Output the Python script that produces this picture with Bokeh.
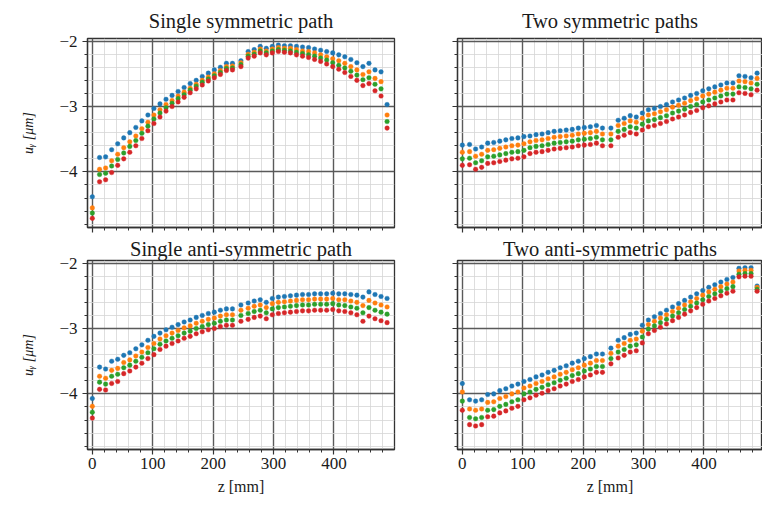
from bokeh.plotting import figure
from bokeh.layouts import column, row
from bokeh.models import FixedTicker, Range1d
from bokeh.embed import file_html
from bokeh.resources import INLINE

# ---------------- data ----------------
z = [0, 12, 22, 32, 42, 52, 62, 72, 82, 92, 102, 112, 122, 132, 142, 152, 162, 172,
     182, 192, 202, 212, 222, 232, 246, 258, 268, 278, 288, 298, 308, 318, 328, 338,
     348, 358, 368, 378, 388, 398, 408, 418, 428, 438, 448, 458, 468, 478, 488]

titles = ["Single symmetric path", "Two symmetric paths",
          "Single anti-symmetric path", "Two anti-symmetric paths"]

x_ticks = [0, 100, 200, 300, 400]
x_minor = [20, 40, 60, 80, 120, 140, 160, 180, 220, 240, 260, 280, 320, 340, 360,
           380, 420, 440, 460, 480]
y_ticks = [-4, -3, -2]
y_tick_labels = {-4: "\u22124", -3: "\u22123", -2: "\u22122"}
y_minor = [-4.8, -4.6, -4.4, -4.2, -3.8, -3.6, -3.4, -3.2, -2.8, -2.6, -2.4, -2.2]

# Single symmetric path
tl_blue = [-4.38, -3.78, -3.77, -3.66, -3.57, -3.48, -3.40, -3.32, -3.22, -3.13, -3.03, -2.96,
           -2.89, -2.83, -2.77, -2.71, -2.65, -2.60, -2.54, -2.49, -2.44, -2.40, -2.34, -2.34,
           -2.30, -2.16, -2.13, -2.08, -2.11, -2.08, -2.06, -2.07, -2.07, -2.08, -2.09, -2.10,
           -2.12, -2.14, -2.16, -2.18, -2.21, -2.24, -2.28, -2.33, -2.39, -2.34, -2.44, -2.47, -2.97]
tl_orange = [-4.55, -3.96, -3.94, -3.83, -3.73, -3.63, -3.54, -3.45, -3.34, -3.24, -3.13, -3.05,
             -2.97, -2.91, -2.84, -2.78, -2.72, -2.66, -2.60, -2.55, -2.50, -2.45, -2.39, -2.38,
             -2.33, -2.20, -2.17, -2.12, -2.15, -2.12, -2.10, -2.11, -2.11, -2.13, -2.15, -2.16,
             -2.18, -2.21, -2.24, -2.27, -2.30, -2.34, -2.39, -2.44, -2.51, -2.47, -2.57, -2.62, -3.13]
tl_green = [-4.63, -4.04, -4.02, -3.91, -3.81, -3.71, -3.61, -3.52, -3.41, -3.30, -3.19, -3.10,
            -3.02, -2.95, -2.88, -2.82, -2.75, -2.69, -2.63, -2.58, -2.53, -2.48, -2.42, -2.41,
            -2.36, -2.23, -2.20, -2.15, -2.18, -2.15, -2.13, -2.14, -2.15, -2.17, -2.19, -2.21,
            -2.23, -2.26, -2.29, -2.33, -2.37, -2.41, -2.46, -2.52, -2.59, -2.56, -2.66, -2.73, -3.23]
tl_red = [-4.71, -4.15, -4.12, -4.01, -3.90, -3.80, -3.70, -3.60, -3.49, -3.37, -3.26, -3.16,
          -3.07, -3.00, -2.93, -2.86, -2.79, -2.73, -2.67, -2.61, -2.56, -2.51, -2.45, -2.44,
          -2.39, -2.26, -2.23, -2.18, -2.21, -2.18, -2.16, -2.17, -2.18, -2.21, -2.23, -2.25,
          -2.28, -2.31, -2.35, -2.39, -2.43, -2.48, -2.54, -2.60, -2.68, -2.65, -2.76, -2.84, -3.33]

# Two symmetric paths
tr_blue = [-3.59, -3.58, -3.65, -3.62, -3.56, -3.55, -3.53, -3.51, -3.49, -3.48, -3.46, -3.45,
           -3.43, -3.42, -3.40, -3.38, -3.37, -3.36, -3.35, -3.33, -3.32, -3.31, -3.29, -3.33,
           -3.33, -3.21, -3.18, -3.14, -3.16, -3.10, -3.05, -3.03, -3.00, -2.97, -2.93, -2.90,
           -2.87, -2.83, -2.80, -2.76, -2.73, -2.70, -2.67, -2.64, -2.64, -2.53, -2.54, -2.56, -2.49]
tr_orange = [-3.70, -3.69, -3.76, -3.73, -3.67, -3.66, -3.64, -3.62, -3.60, -3.59, -3.57, -3.54,
             -3.52, -3.51, -3.49, -3.47, -3.46, -3.45, -3.44, -3.42, -3.41, -3.40, -3.38, -3.42,
             -3.42, -3.29, -3.26, -3.22, -3.24, -3.18, -3.13, -3.11, -3.08, -3.05, -3.01, -2.98,
             -2.95, -2.91, -2.88, -2.84, -2.81, -2.78, -2.75, -2.72, -2.72, -2.61, -2.62, -2.64, -2.57]
tr_green = [-3.80, -3.79, -3.86, -3.83, -3.77, -3.76, -3.74, -3.72, -3.70, -3.69, -3.67, -3.63,
            -3.61, -3.60, -3.58, -3.56, -3.55, -3.54, -3.53, -3.51, -3.50, -3.49, -3.47, -3.51,
            -3.51, -3.38, -3.35, -3.31, -3.33, -3.27, -3.22, -3.20, -3.17, -3.14, -3.10, -3.07,
            -3.04, -3.00, -2.97, -2.93, -2.90, -2.87, -2.84, -2.81, -2.81, -2.70, -2.71, -2.73, -2.66]
tr_red = [-3.90, -3.89, -3.96, -3.93, -3.87, -3.86, -3.84, -3.82, -3.80, -3.79, -3.77, -3.72,
          -3.70, -3.69, -3.67, -3.65, -3.64, -3.63, -3.62, -3.60, -3.59, -3.58, -3.56, -3.60,
          -3.60, -3.47, -3.44, -3.40, -3.42, -3.36, -3.31, -3.29, -3.26, -3.23, -3.19, -3.16,
          -3.13, -3.09, -3.06, -3.02, -2.99, -2.96, -2.93, -2.90, -2.90, -2.79, -2.80, -2.82, -2.75]

# Single anti-symmetric path
bl_blue = [-4.07, -3.59, -3.62, -3.50, -3.47, -3.41, -3.37, -3.31, -3.25, -3.18, -3.12, -3.07,
           -3.02, -2.98, -2.94, -2.90, -2.87, -2.83, -2.80, -2.77, -2.75, -2.72, -2.70, -2.70,
           -2.64, -2.61, -2.58, -2.56, -2.60, -2.54, -2.52, -2.51, -2.50, -2.49, -2.48, -2.48,
           -2.47, -2.47, -2.47, -2.46, -2.47, -2.47, -2.48, -2.49, -2.52, -2.44, -2.48, -2.51, -2.54]
bl_orange = [-4.19, -3.73, -3.76, -3.64, -3.61, -3.52, -3.48, -3.42, -3.36, -3.29, -3.23, -3.16,
             -3.11, -3.07, -3.03, -2.99, -2.96, -2.92, -2.89, -2.86, -2.84, -2.81, -2.79, -2.79,
             -2.72, -2.69, -2.66, -2.64, -2.68, -2.62, -2.60, -2.59, -2.58, -2.57, -2.56, -2.56,
             -2.55, -2.55, -2.55, -2.54, -2.56, -2.56, -2.58, -2.60, -2.65, -2.57, -2.61, -2.64, -2.67]
bl_green = [-4.28, -3.82, -3.85, -3.73, -3.70, -3.60, -3.56, -3.50, -3.44, -3.37, -3.31, -3.24,
            -3.19, -3.15, -3.11, -3.07, -3.04, -3.00, -2.97, -2.94, -2.92, -2.89, -2.87, -2.87,
            -2.80, -2.77, -2.74, -2.72, -2.76, -2.70, -2.68, -2.67, -2.66, -2.65, -2.64, -2.64,
            -2.63, -2.63, -2.63, -2.62, -2.64, -2.65, -2.67, -2.69, -2.76, -2.68, -2.72, -2.75, -2.78]
bl_red = [-4.37, -3.93, -3.94, -3.84, -3.81, -3.69, -3.65, -3.59, -3.53, -3.46, -3.40, -3.32,
          -3.27, -3.23, -3.19, -3.15, -3.12, -3.08, -3.05, -3.02, -3.00, -2.97, -2.95, -2.95,
          -2.89, -2.86, -2.83, -2.81, -2.85, -2.79, -2.77, -2.76, -2.75, -2.74, -2.73, -2.73,
          -2.72, -2.72, -2.72, -2.71, -2.73, -2.74, -2.76, -2.79, -2.89, -2.81, -2.85, -2.88, -2.91]

# Two anti-symmetric paths
br_blue = [-3.84, -4.09, -4.11, -4.09, -4.01, -4.00, -3.95, -3.92, -3.88, -3.85, -3.81, -3.78,
           -3.74, -3.71, -3.67, -3.64, -3.60, -3.57, -3.53, -3.50, -3.46, -3.43, -3.39, -3.39,
           -3.30, -3.18, -3.14, -3.09, -3.07, -2.95, -2.87, -2.82, -2.77, -2.72, -2.67, -2.62,
           -2.57, -2.52, -2.47, -2.42, -2.37, -2.33, -2.29, -2.25, -2.22, -2.08, -2.07, -2.07, -2.35]
br_orange = [-3.97, -4.23, -4.25, -4.23, -4.13, -4.12, -4.07, -4.04, -4.00, -3.97, -3.91, -3.88,
             -3.84, -3.81, -3.77, -3.74, -3.70, -3.67, -3.63, -3.60, -3.56, -3.53, -3.49, -3.49,
             -3.38, -3.27, -3.23, -3.18, -3.16, -3.04, -2.94, -2.89, -2.84, -2.79, -2.74, -2.69,
             -2.64, -2.59, -2.54, -2.49, -2.44, -2.40, -2.36, -2.32, -2.29, -2.12, -2.11, -2.11, -2.37]
br_green = [-4.11, -4.36, -4.38, -4.36, -4.25, -4.24, -4.19, -4.16, -4.12, -4.09, -4.00, -3.97,
            -3.93, -3.90, -3.86, -3.83, -3.79, -3.76, -3.72, -3.69, -3.65, -3.62, -3.58, -3.58,
            -3.46, -3.36, -3.32, -3.27, -3.25, -3.13, -3.01, -2.96, -2.91, -2.86, -2.81, -2.76,
            -2.71, -2.66, -2.61, -2.56, -2.51, -2.47, -2.43, -2.39, -2.36, -2.17, -2.16, -2.16, -2.40]
br_red = [-4.25, -4.47, -4.49, -4.47, -4.35, -4.34, -4.29, -4.26, -4.22, -4.19, -4.09, -4.06,
          -4.02, -3.99, -3.95, -3.92, -3.88, -3.85, -3.81, -3.78, -3.74, -3.71, -3.67, -3.67,
          -3.54, -3.45, -3.41, -3.36, -3.34, -3.22, -3.08, -3.03, -2.98, -2.93, -2.88, -2.83,
          -2.78, -2.73, -2.68, -2.63, -2.58, -2.54, -2.50, -2.46, -2.43, -2.21, -2.20, -2.20, -2.43]

panels = [
    [tl_blue, tl_orange, tl_green, tl_red],
    [tr_blue, tr_orange, tr_green, tr_red],
    [bl_blue, bl_orange, bl_green, bl_red],
    [br_blue, br_orange, br_green, br_red],
]

COLORS = ["#1f77b4", "#ff7f0e", "#2ca02c", "#d62728"]
SERIF = "Liberation Serif"


def make(idx, fw, left, right, top, bottom, xlabels, ylabels, title_standoff):
    p = figure(frame_width=fw, frame_height=189,
               x_range=Range1d(-8, -8 + fw / 0.604), y_range=Range1d(-4.85, -1.96),
               output_backend="svg", toolbar_location=None,
               min_border_left=left, min_border_right=right,
               min_border_top=top, min_border_bottom=bottom,
               title=titles[idx])
    p.background_fill_color = "white"
    p.border_fill_color = "white"
    p.outline_line_color = "#333333"
    p.outline_line_width = 1.3

    p.title.text_font = SERIF
    p.title.text_font_size = "20.5px"
    p.title.text_font_style = "normal"
    p.title.text_color = "#1a1a1a"
    p.title.align = "center"
    p.title.standoff = title_standoff

    xt = FixedTicker(ticks=x_ticks, minor_ticks=x_minor)
    yt = FixedTicker(ticks=y_ticks, minor_ticks=y_minor)
    p.xaxis.ticker = xt
    p.yaxis.ticker = yt
    p.xgrid.ticker = xt
    p.ygrid.ticker = yt
    for g in (p.xgrid, p.ygrid):
        g.grid_line_color = "#5a5a5a"
        g.grid_line_width = 1.4
        g.minor_grid_line_color = "#d6d6d6"
        g.minor_grid_line_width = 0.8

    for ax in (p.xaxis, p.yaxis):
        ax.axis_line_color = "#333333"
        ax.axis_line_width = 1.3
        ax.major_tick_line_color = "#333333"
        ax.minor_tick_line_color = "#333333"
        ax.major_tick_line_width = 1.2
        ax.minor_tick_line_width = 1.0
        ax.major_tick_out = 5
        ax.major_tick_in = 0
        ax.minor_tick_out = 3
        ax.minor_tick_in = 0
        ax.major_label_text_font = SERIF
        ax.major_label_text_font_size = "17px"
        ax.major_label_text_color = "#1a1a1a"
        ax.axis_label_text_font = SERIF
        ax.axis_label_text_color = "#1a1a1a"
        ax.axis_label_text_font_style = "normal"

    if xlabels:
        p.xaxis.axis_label = "z [mm]"
        p.xaxis.axis_label_text_font_size = "16px"
        p.xaxis.major_label_standoff = 3
        p.xaxis.axis_label_standoff = 6
    else:
        p.xaxis.major_label_overrides = {t: "" for t in x_ticks}
        p.xaxis.major_label_text_font_size = "2px"
        p.xaxis.major_label_standoff = 0
    if ylabels:
        p.yaxis.major_label_overrides = y_tick_labels
        p.yaxis.axis_label = "u\u1d67 [\u03bcm]"
        p.yaxis.axis_label_text_font_size = "14px"
        p.yaxis.axis_label_text_font_style = "italic"
        p.yaxis.major_label_standoff = 5
        p.yaxis.axis_label_standoff = 20
    else:
        p.yaxis.major_label_overrides = {t: "" for t in y_ticks}
        p.yaxis.major_label_text_font_size = "4px"
        p.yaxis.major_label_standoff = 0

    for vals, c in zip(panels[idx], COLORS):
        p.scatter(z, vals, size=4.6, fill_color=c, line_color=c, line_width=0.4)
    return p


p1 = make(0, 307, 87, 10, 38, 6, False, True, 13)
p2 = make(1, 305, 53, 0, 38, 6, False, False, 13)
p3 = make(2, 307, 87, 10, 27, 48, True, True, 2)
p4 = make(3, 305, 53, 0, 27, 48, True, False, 2)

layout = column(row(p1, p2), row(p3, p4))

open("out.html", "w").write(file_html(layout, INLINE))
